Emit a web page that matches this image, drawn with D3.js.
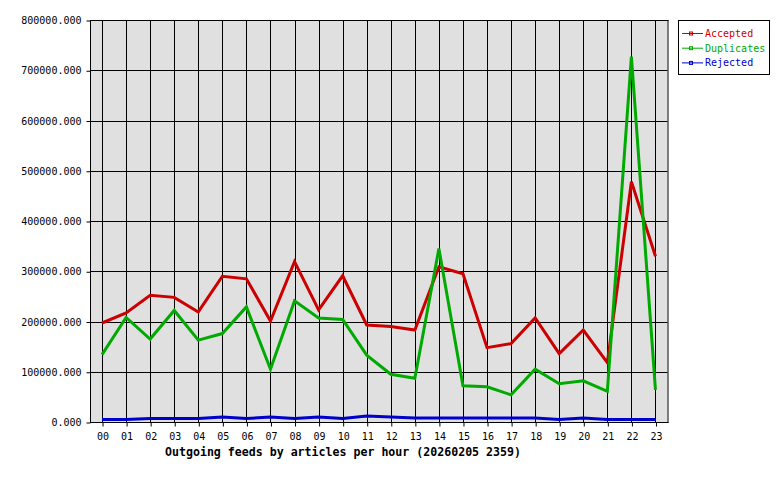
<!DOCTYPE html>
<html>
<head>
<meta charset="utf-8">
<script src="https://cdn.jsdelivr.net/npm/d3@7"></script>
<style>
  body { margin: 0; background: #fff; }
  text { font-family: "DejaVu Sans Mono", monospace; }
</style>
</head>
<body>
<script>
// hours of the day
var hours = ["00","01","02","03","04","05","06","07","08","09","10","11",
             "12","13","14","15","16","17","18","19","20","21","22","23"];
// articles per hour
var accepted = [197000, 217000, 252000, 248000, 219000, 290000, 285000, 201000,
                319000, 223000, 291000, 193000, 190000, 183000, 309000, 295000,
                148000, 156000, 207000, 136000, 183000, 118000, 478000, 330000];
var duplicates = [134000, 208000, 165000, 222000, 163000, 176000, 229000, 105000,
                  241000, 207000, 204000, 133000, 95000, 87000, 345000, 72000,
                  70000, 54000, 105000, 76000, 82000, 61000, 727000, 64000];
var rejected = [5000, 5000, 7000, 7000, 7000, 10000, 7000, 10000,
                7000, 10000, 7000, 12000, 10000, 8000, 8000, 8000,
                8000, 8000, 8000, 5000, 8000, 5000, 5000, 5000];
var yTicks = [0, 100000, 200000, 300000, 400000, 500000, 600000, 700000, 800000];

var series = [
  {name: "Accepted", values: accepted, color: "#cc0000"},
  {name: "Duplicates", values: duplicates, color: "#00aa00"},
  {name: "Rejected", values: rejected, color: "#0000cc"}
];

var W = 780, H = 480;
var pLeft = 90, pRight = 667.5, pTop = 20, pBottom = 422;

var x = d3.scaleLinear().domain([-0.5, 23.5]).range([pLeft, pRight]);
var y = d3.scaleLinear().domain([0, 800000]).range([pBottom, pTop]);
var fmt = d3.format(".3f");

var svg = d3.select("body").append("svg")
    .attr("width", W)
    .attr("height", H);

// plot background
svg.append("rect")
    .attr("x", pLeft).attr("y", pTop)
    .attr("width", pRight - pLeft).attr("height", pBottom - pTop)
    .attr("fill", "#e0e0e0");

// grid
svg.append("g").selectAll("line")
    .data(yTicks.slice(1))
    .enter().append("line")
    .attr("x1", pLeft).attr("x2", pRight)
    .attr("y1", function(d) { return Math.round(y(d)) + 0.5; })
    .attr("y2", function(d) { return Math.round(y(d)) + 0.5; })
    .attr("stroke", "#000");

svg.append("g").selectAll("line")
    .data(hours)
    .enter().append("line")
    .attr("x1", function(d, i) { return Math.round(x(i)) + 0.5; })
    .attr("x2", function(d, i) { return Math.round(x(i)) + 0.5; })
    .attr("y1", pTop).attr("y2", pBottom)
    .attr("stroke", "#000");

// y axis
var yAxis = d3.axisLeft(y)
    .tickValues(yTicks)
    .tickSize(4)
    .tickPadding(5)
    .tickFormat(fmt);
svg.append("g")
    .attr("transform", "translate(" + (pLeft + 0.5) + ",0.5)")
    .call(yAxis)
    .call(function(g) {
      g.select(".domain").remove();
      g.selectAll("text").attr("font-family", "DejaVu Sans Mono").attr("font-size", 10).attr("fill", "#000");
    });

// x axis
var xAxis = d3.axisBottom(x)
    .tickValues(d3.range(hours.length))
    .tickSize(4)
    .tickPadding(6)
    .tickFormat(function(i) { return hours[i]; });
svg.append("g")
    .attr("transform", "translate(0.5," + (pBottom + 0.5) + ")")
    .call(xAxis)
    .call(function(g) {
      g.select(".domain").remove();
      g.selectAll("text").attr("font-family", "DejaVu Sans Mono").attr("font-size", 10).attr("fill", "#000");
    });

// frame
svg.append("line").attr("x1", pLeft + 0.5).attr("x2", pLeft + 0.5)
    .attr("y1", pTop).attr("y2", pBottom + 1).attr("stroke", "#000");
svg.append("line").attr("x1", pLeft).attr("x2", pRight + 1)
    .attr("y1", pBottom + 0.5).attr("y2", pBottom + 0.5).attr("stroke", "#000");
svg.append("line").attr("x1", pRight + 0.5).attr("x2", pRight + 0.5)
    .attr("y1", pTop).attr("y2", pBottom + 1).attr("stroke", "#000");
svg.append("line").attr("x1", pLeft).attr("x2", pRight + 1)
    .attr("y1", pTop + 0.5).attr("y2", pTop + 0.5).attr("stroke", "#000");

// lines
var line = d3.line()
    .x(function(d, i) { return x(i); })
    .y(function(d) { return y(d); });

svg.append("g").selectAll("path")
    .data(series)
    .enter().append("path")
    .attr("d", function(s) { return line(s.values); })
    .attr("fill", "none")
    .attr("stroke", function(s) { return s.color; })
    .attr("stroke-width", 3)
    .attr("stroke-linejoin", "miter");

// title
svg.append("text")
    .attr("x", 343).attr("y", 456)
    .attr("text-anchor", "middle")
    .attr("font-size", 11.6)
    .attr("font-weight", "bold")
    .text("Outgoing feeds by articles per hour (20260205 2359)");

// legend
var legend = svg.append("g");
legend.append("rect")
    .attr("x", 678.5).attr("y", 20.5)
    .attr("width", 91).attr("height", 54)
    .attr("fill", "#fff").attr("stroke", "#000");

var item = legend.selectAll("g.item")
    .data(series)
    .enter().append("g")
    .attr("class", "item")
    .attr("transform", function(d, i) { return "translate(0," + (33.5 + i * 14.7) + ")"; });
item.append("line")
    .attr("x1", 682).attr("x2", 703)
    .attr("stroke", function(d) { return d.color; });
item.append("rect")
    .attr("x", 689.5).attr("y", -1.5)
    .attr("width", 3).attr("height", 3)
    .attr("fill", "none")
    .attr("stroke", function(d) { return d.color; });
item.append("text")
    .attr("x", 705).attr("y", 3.5)
    .attr("font-size", 10)
    .attr("fill", function(d) { return d.color; })
    .text(function(d) { return d.name; });
</script>
</body>
</html>
